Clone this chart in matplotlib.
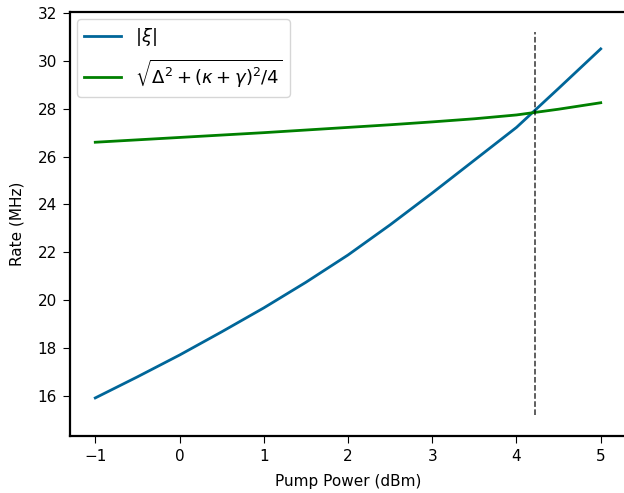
import numpy as np
import matplotlib
matplotlib.use("Agg")
import matplotlib.pyplot as plt

# значения
power = [-1.0, -0.5, 0.0, 0.5, 1.0, 1.5, 2.0, 2.5, 3.0, 3.5, 4.0, 4.5, 5.0]
xi_abs = [15.92, 16.80, 17.71, 18.68, 19.68, 20.75, 21.89, 23.15, 24.48, 25.85, 27.22, 28.85, 30.50]
threshold = [26.60, 26.70, 26.80, 26.90, 27.00, 27.11, 27.22, 27.33, 27.45, 27.58, 27.74, 27.98, 28.25]
crossing = 4.22
vline_span = [15.2, 31.2]

plt.rcParams["font.size"] = 11
plt.rcParams["xtick.major.size"] = 5
plt.rcParams["ytick.major.size"] = 5
plt.rcParams["xtick.major.pad"] = 4.5
plt.rcParams["ytick.major.pad"] = 4.5
plt.rcParams["axes.linewidth"] = 1.6

fig = plt.figure(figsize=(6.24, 4.93), dpi=100)
ax = fig.add_axes([70 / 624, 1 - 436 / 493, 556 / 624, 424 / 493])

ax.plot(power, xi_abs, color="#006699", lw=2, label=r"$|\xi|$")
ax.plot(power, threshold, color="green", lw=2,
        label=r"$\sqrt{\Delta^2 + (\kappa + \gamma)^2/4}$")
ax.vlines(crossing, vline_span[0], vline_span[1], colors="k", linestyles="--", lw=1.1, alpha=0.8)

ax.set_xlim(-1.3, 5.3)
ax.set_ylim(14.33, 32.04)
ax.set_yticks([16, 18, 20, 22, 24, 26, 28, 30, 32])
ax.spines["right"].set_visible(False)  # в оригинале обрезано
ax.set_xlabel("Pump Power (dBm)", labelpad=7)
ax.set_ylabel("Rate (MHz)", labelpad=9)
ax.legend(loc="upper left", fontsize=13, borderaxespad=0.4)

fig.savefig("out.png", dpi=100)
